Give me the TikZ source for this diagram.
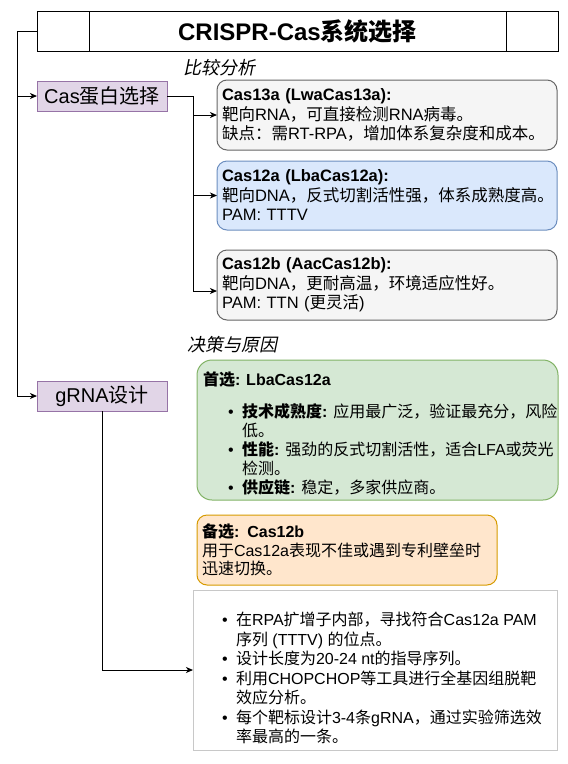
\documentclass[tikz,border=0pt]{standalone}
\usepackage{fontspec}
\setmainfont{Liberation Sans}
\newfontfamily\cjkfam{Noto Sans CJK SC}
\newfontfamily\cjkslant{Noto Sans CJK SC}[FakeSlant=0.2]
\usetikzlibrary{arrows.meta,calc}
\newXeTeXintercharclass\CJKcls
\makeatletter
\def\setcjkrange#1#2{\count@=#1\relax\loop\XeTeXcharclass\count@=\CJKcls\relax\ifnum\count@<#2\relax\advance\count@\@ne\repeat}
\makeatother
\setcjkrange{"4E00}{"9FFF}
\setcjkrange{"3000}{"303F}
\setcjkrange{"FF00}{"FFEF}
\XeTeXinterchartoks 0 \CJKcls = {\cjkfam}
\XeTeXinterchartoks 4095 \CJKcls = {\cjkfam}
\XeTeXinterchartoks \CJKcls 0 = {\rmfamily}
\XeTeXinterchartoks \CJKcls 4095 = {\rmfamily}
\XeTeXinterchartokenstate=1
\definecolor{purF}{HTML}{E1D5E7}\definecolor{purD}{HTML}{9673A6}
\definecolor{gryF}{HTML}{F5F5F5}\definecolor{gryD}{HTML}{666666}
\definecolor{bluF}{HTML}{DAE8FC}\definecolor{bluD}{HTML}{6C8EBF}
\definecolor{grnF}{HTML}{D5E8D4}\definecolor{grnD}{HTML}{82B366}
\definecolor{orgF}{HTML}{FFE6CC}\definecolor{orgD}{HTML}{D79B00}
\definecolor{lgtD}{HTML}{C8C8C8}
\newcommand{\bul}{\makebox[14pt][l]{•}}
\begin{document}
\begin{tikzpicture}[x=1pt,y=-1pt,
  every node/.style={inner sep=0pt,outer sep=0pt},
  cell/.style={draw=black,line width=1pt,fill=white},
  lab/.style={font=\fontsize{18}{20}\selectfont},
  pbox/.style={draw=purD,fill=purF,line width=1pt,minimum width=130,minimum height=30,font=\fontsize{20}{24}\selectfont},
  cbox/.style={line width=1pt,rounded corners=10pt,minimum width=340,minimum height=70,text width=330,inner xsep=5pt,align=left,font=\fontsize{16.5}{19.5}\selectfont},
  txt/.style={align=left,font=\fontsize{16}{19.5}\selectfont},
  conn/.style={draw=black,line width=1pt,-{Stealth[length=7pt,width=6pt,inset=2pt]}}]
\fill[white] (0,0) rectangle (568,764);
\useasboundingbox (0,0) rectangle (568,764);
% title
\node[cell,minimum width=52,minimum height=40] (tl) at (63,31) {};
\node[cell,minimum width=417,minimum height=40,font=\bfseries\fontsize{24}{28}\selectfont] (title) at (297.5,31) {CRISPR-Cas系统选择};
\node[cell,minimum width=52,minimum height=40] (tr) at (532,31) {};
% labels
\node[lab] (cmp) at (219,68) {\XeTeXinterchartokenstate=0 \cjkslant 比较分析};
\node[lab] (dec) at (232,345) {\XeTeXinterchartokenstate=0 \cjkslant 决策与原因};
% left boxes
\node[pbox] (cas) at (102,96) {Cas蛋白选择};
\node[pbox] (grna) at (102,396) {gRNA设计};
% Cas boxes
\node[cbox,draw=gryD,fill=gryF] (c13) at (387,115) {\textbf{Cas13a (LwaCas13a):}\\靶向RNA，可直接检测RNA病毒。\\缺点：需RT-RPA，增加体系复杂度和成本。};
\node[cbox,draw=bluD,fill=bluF,minimum height=69] (c12a) at (387,195.5) {\textbf{Cas12a (LbaCas12a):}\\靶向DNA，反式切割活性强，体系成熟度高。\\PAM: TTTV};
\node[cbox,draw=gryD,fill=gryF] (c12b) at (387,285) {\textbf{Cas12b (AacCas12b):}\\靶向DNA，更耐高温，环境适应性好。\\PAM: TTN (更灵活)};
% decision boxes
\node[draw=grnD,fill=grnF,line width=1pt,rounded corners=15pt,minimum width=361,minimum height=140] (green) at (377.5,430) {};
\node[txt,anchor=north west,font=\fontsize{16}{19}\selectfont] (greentxt) at (203,372) {\textbf{首选: LbaCas12a}\\[13pt]
\hspace*{25pt}\bul\textbf{技术成熟度:} 应用最广泛，验证最充分，风险\\
\hspace*{39pt}低。\\
\hspace*{25pt}\bul\textbf{性能:} 强劲的反式切割活性，适合LFA或荧光\\
\hspace*{39pt}检测。\\
\hspace*{25pt}\bul\textbf{供应链:} 稳定，多家供应商。};
\node[draw=orgD,fill=orgF,line width=1pt,rounded corners=10pt,minimum width=300,minimum height=70,text width=290,inner xsep=5pt,align=left,font=\fontsize{16}{18.5}\selectfont] (orange) at (347,550) {\textbf{备选: Cas12b}\\用于Cas12a表现不佳或遇到专利壁垒时\\迅速切换。};
% gRNA design box
\node[draw=lgtD,fill=white,line width=1pt,minimum width=364,minimum height=160] (gbox) at (375,670) {};
\node[txt,anchor=north west] (gtxt) at (222,612) {\bul 在RPA扩增子内部，寻找符合Cas12a PAM\\
\hspace*{14pt}序列 (TTTV) 的位点。\\
\bul 设计长度为20-24 nt的指导序列。\\
\bul 利用CHOPCHOP等工具进行全基因组脱靶\\
\hspace*{14pt}效应分析。\\
\bul 每个靶标设计3-4条gRNA，通过实验筛选效\\
\hspace*{14pt}率最高的一条。};
% connectors
\coordinate (j1) at (17,31);
\draw[conn] (tl.west) -- (j1) |- (cas.west);
\draw[conn] (j1) |- (grna.west);
\coordinate (j2) at (193,96);
\draw[conn] (cas.east) -- (j2) |- (c13.west);
\draw[conn] (j2) |- (c12a.west);
\draw[conn] (j2) |- ($(c12b.west)+(0,6)$);
\draw[conn] (grna.south) |- (gbox.west);
\end{tikzpicture}
\end{document}
